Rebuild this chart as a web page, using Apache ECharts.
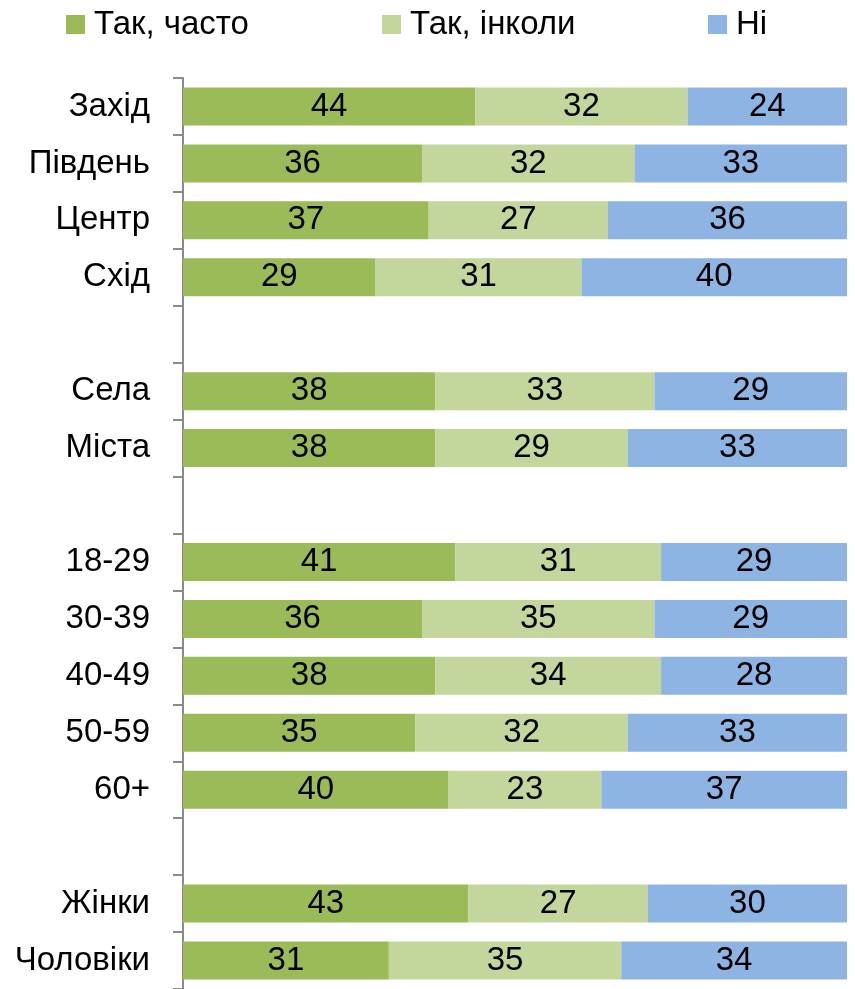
<!DOCTYPE html>
<html>
<head>
<meta charset="utf-8">
<script src="https://cdn.jsdelivr.net/npm/echarts@6/dist/echarts.min.js"></script>
<style>
  html, body { margin: 0; padding: 0; background: #fff; }
  #chart { width: 855px; height: 989px; }
</style>
</head>
<body>
<div id="chart"></div>
<script>
// категорії (порожні рядки - проміжки між групами)
const categories = ['Захід', 'Південь', 'Центр', 'Схід', '', 'Села', 'Міста', '',
  '18-29', '30-39', '40-49', '50-59', '60+', '', 'Жінки', 'Чоловіки'];
const often = [44, 36, 37, 29, null, 38, 38, null, 41, 36, 38, 35, 40, null, 43, 31];
const sometimes = [32, 32, 27, 31, null, 33, 29, null, 31, 35, 34, 32, 23, null, 27, 35];
const never = [24, 33, 36, 40, null, 29, 33, null, 29, 29, 28, 33, 37, null, 30, 34];
const seriesNames = ['Так, часто', 'Так, інколи', 'Ні'];
const colors = ['#9BBB59', '#C3D69B', '#8EB4E3'];

const font = '"Liberation Sans Narrow", "Arial Narrow", "Liberation Sans", sans-serif';
const fs = 33;

let myChart = echarts.init(document.getElementById('chart'));

function makeSeries(name, data, color) {
  return {
    name: name,
    type: 'bar',
    stack: 'all',
    barWidth: 38,
    data: data,
    itemStyle: { color: color },
    label: {
      show: true,
      position: 'inside',
      color: '#000',
      fontFamily: font,
      fontSize: fs
    }
  };
}

// окрема легенда для кожного пункту, щоб розставити як в оригіналі
const legendLeft = [61, 377, 703];
const legends = seriesNames.map((name, i) => ({
  top: 3,
  left: legendLeft[i],
  itemWidth: 19,
  itemHeight: 19,
  icon: 'rect',
  textStyle: { fontFamily: font, fontSize: fs, color: '#000', padding: [0, 0, 0, 4] },
  data: [name]
}));

myChart.setOption({
  animation: false,
  backgroundColor: '#fff',
  legend: legends,
  grid: { left: 183, right: 8, top: 78, height: 917, containLabel: false },
  xAxis: {
    type: 'value',
    min: 0,
    max: 100,
    show: false
  },
  yAxis: {
    type: 'category',
    inverse: true,
    data: categories,
    axisLine: { lineStyle: { color: '#8a8a8a', width: 2 } },
    axisTick: { show: true, alignWithLabel: false, length: 10, lineStyle: { color: '#8a8a8a', width: 2 } },
    axisLabel: { margin: 33, color: '#000', fontFamily: font, fontSize: fs }
  },
  series: [
    makeSeries(seriesNames[0], often, colors[0]),
    makeSeries(seriesNames[1], sometimes, colors[1]),
    makeSeries(seriesNames[2], never, colors[2])
  ]
});

window.onresize = function () {
  myChart.resize();
};
</script>
</body>
</html>
